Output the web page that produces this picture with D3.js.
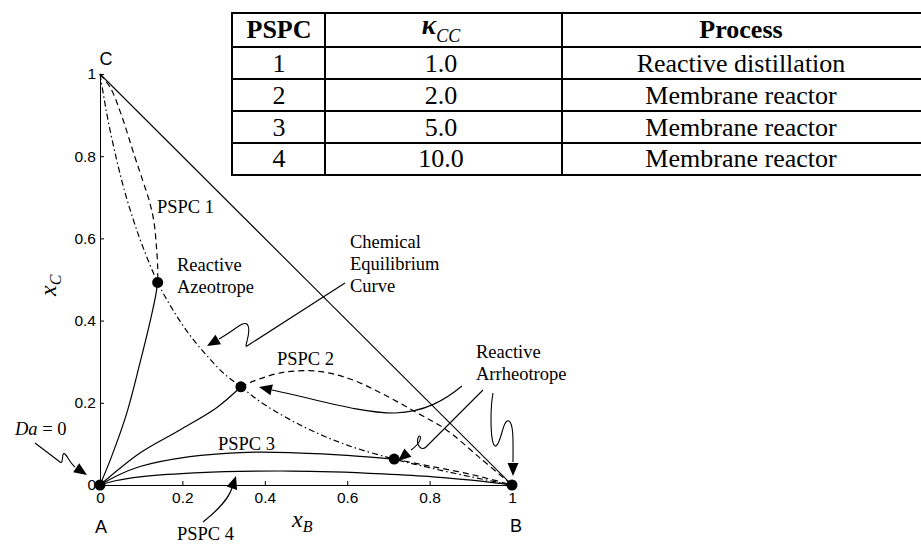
<!DOCTYPE html>
<html><head><meta charset="utf-8">
<script src="https://cdn.jsdelivr.net/npm/d3@7"></script>
<style>body{margin:0;background:#fff;}svg{display:block;}</style>
</head><body><svg id="c" width="921" height="545"></svg>
<script>
// ---------- data (x_B, x_C) ----------
const xTicks = [0, 0.2, 0.4, 0.6, 0.8, 1];
const yTicks = [0, 0.2, 0.4, 0.6, 0.8, 1];
const hypotenuse = [[0, 1], [1, 0]];
const equilibriumCurve = [[0,1],[0.01,0.94],[0.02,0.885],[0.04,0.793],[0.06,0.714],[0.08,0.648],[0.10,0.59],[0.14,0.493],[0.18,0.421],[0.22,0.362],[0.26,0.314],[0.30,0.272],[0.342,0.239],[0.40,0.195],[0.50,0.139],[0.60,0.097],[0.714,0.063],[0.80,0.042],[0.90,0.02],[1,0]];
const pspc1Stable = [[0,0],[0.028,0.069],[0.065,0.175],[0.097,0.297],[0.121,0.395],[0.135,0.46],[0.14,0.493]];
const pspc1Unstable = [[0,1],[0.026,0.965],[0.052,0.90],[0.084,0.80],[0.104,0.74],[0.12,0.69],[0.131,0.64],[0.137,0.58],[0.14,0.53],[0.14,0.493]];
const pspc2Stable = [[0,0],[0.097,0.078],[0.194,0.134],[0.283,0.188],[0.342,0.239]];
const pspc2Unstable = [[0.342,0.239],[0.376,0.254],[0.444,0.274],[0.526,0.277],[0.607,0.258],[0.687,0.221],[0.769,0.176],[0.841,0.134],[0.922,0.066],[1,0]];
const pspc3Stable = [[0,0],[0.04,0.022],[0.097,0.045],[0.218,0.069],[0.34,0.079],[0.46,0.079],[0.6,0.072],[0.714,0.063]];
const pspc3Unstable = [[0.714,0.063],[0.80,0.046],[0.90,0.026],[1,0]];
const pspc4Stable = [[0,0],[0.04,0.011],[0.097,0.020],[0.218,0.029],[0.34,0.033],[0.461,0.034],[0.566,0.032],[0.687,0.027],[0.808,0.020],[0.93,0.009],[1,0]];
const fixedPoints = [[0,0],[1,0],[0.14,0.493],[0.342,0.239],[0.714,0.063]];
const tablePSPC = ["1","2","3","4"];
const tableKappa = ["1.0","2.0","5.0","10.0"];
const tableProcess = ["Reactive distillation","Membrane reactor","Membrane reactor","Membrane reactor"];

// ---------- setup ----------
const serif = "'Liberation Serif','Times New Roman',serif";
const sans = "'Liberation Sans',Arial,sans-serif";
const svg = d3.select('#c');
const x = d3.scaleLinear().domain([0,1]).range([100,512]);
const y = d3.scaleLinear().domain([0,1]).range([485,74]);
const line = d3.line().x(d=>x(d[0])).y(d=>y(d[1])).curve(d3.curveCatmullRom.alpha(0.5));

// ---------- table ----------
const tbl = svg.append('g');
const colX = [232, 325, 562, 921];
const rowY = [13, 47, 79, 111, 143, 175];
rowY.forEach(v => tbl.append('line').attr('x1',colX[0]-1).attr('x2',colX[3]).attr('y1',v).attr('y2',v).attr('stroke','#000').attr('stroke-width',2));
colX.slice(0,3).forEach(v => tbl.append('line').attr('x1',v).attr('x2',v).attr('y1',rowY[0]).attr('y2',rowY[5]).attr('stroke','#000').attr('stroke-width',2));
const colC = [279, 441, 741];
tbl.append('text').attr('x',colC[0]).attr('y',38).attr('text-anchor','middle').attr('font-family',serif).attr('font-size',26).attr('font-weight','bold').text('PSPC');
const kt = tbl.append('text').attr('x',colC[1]).attr('y',34).attr('text-anchor','middle').attr('font-family',serif).attr('font-size',27);
kt.append('tspan').attr('font-weight','bold').attr('font-style','italic').text('κ');
kt.append('tspan').attr('font-style','italic').attr('font-size',18).attr('dy',8).text('CC');
tbl.append('text').attr('x',colC[2]).attr('y',38).attr('text-anchor','middle').attr('font-family',serif).attr('font-size',26).attr('font-weight','bold').text('Process');
const rowBase = [72, 104, 136, 167];
[tablePSPC, tableKappa, tableProcess].forEach((col, ci) => {
  col.forEach((t, ri) => tbl.append('text').attr('x',colC[ci]).attr('y',rowBase[ri]).attr('text-anchor','middle').attr('font-family',serif).attr('font-size',26).text(t));
});

// ---------- axes ----------
const gx = svg.append('g').attr('transform','translate(0,485)')
  .call(d3.axisBottom(x).tickValues(xTicks).tickFormat(d3.format('~g')).tickSizeInner(-4).tickSizeOuter(0).tickPadding(7));
const gy = svg.append('g').attr('transform','translate(100,0)')
  .call(d3.axisLeft(y).tickValues(yTicks).tickFormat(d3.format('~g')).tickSizeInner(-4).tickSizeOuter(0).tickPadding(4));
[gx, gy].forEach(g => {
  g.attr('font-family', sans).attr('font-size', 15.5);
  g.selectAll('path,line').attr('stroke','#000').attr('stroke-width',1);
  g.selectAll('text').attr('fill','#000');
});

// ---------- curves ----------
const curves = svg.append('g').attr('fill','none').attr('stroke','#000').attr('stroke-width',1.2);
curves.append('path').attr('d', line(hypotenuse)).attr('stroke-width',1.1);
curves.append('path').attr('d', line(equilibriumCurve)).attr('stroke-dasharray','6,3,1.5,3');
curves.append('path').attr('d', line(pspc1Unstable)).attr('stroke-dasharray','6,4');
curves.append('path').attr('d', line(pspc2Unstable)).attr('stroke-dasharray','6,4');
curves.append('path').attr('d', line(pspc3Unstable)).attr('stroke-dasharray','6,4');
curves.append('path').attr('d', line(pspc1Stable));
curves.append('path').attr('d', line(pspc2Stable));
curves.append('path').attr('d', line(pspc3Stable));
curves.append('path').attr('d', line(pspc4Stable));

svg.append('g').selectAll('circle').data(fixedPoints).join('circle')
  .attr('cx', d=>x(d[0])).attr('cy', d=>y(d[1])).attr('r',5.5).attr('fill','#000');

// ---------- labels ----------
function txt(t, px, py, opts={}) {
  return svg.append('text').attr('x',px).attr('y',py).attr('font-family',opts.family||serif)
    .attr('font-size',opts.size||18.5).attr('text-anchor',opts.anchor||'start').attr('fill','#000').text(t);
}
txt('C', 106, 65, {family:sans, size:18, anchor:'middle'});
txt('A', 101, 533, {family:sans, size:18, anchor:'middle'});
txt('B', 516, 532, {family:sans, size:18, anchor:'middle'});
txt('PSPC 1', 157, 212.5);
txt('Reactive', 177, 271); txt('Azeotrope', 177, 293);
txt('Chemical', 350, 248); txt('Equilibrium', 350, 270); txt('Curve', 350, 292);
txt('PSPC 2', 277, 365);
txt('Reactive', 476, 358); txt('Arrheotrope', 476, 380);
txt('PSPC 3', 218, 450);
txt('PSPC 4', 177, 540);
const da = svg.append('text').attr('x',15).attr('y',435).attr('font-family',serif).attr('font-size',18.5);
da.append('tspan').attr('font-style','italic').text('Da');
da.append('tspan').text(' = 0');

const xl = svg.append('text').attr('x',292).attr('y',527).attr('font-family',serif).attr('font-style','italic').attr('font-size',24);
xl.append('tspan').text('x');
xl.append('tspan').attr('font-size',16).attr('dy',5).text('B');
const yl = svg.append('text').attr('transform','translate(56,296) rotate(-90)').attr('font-family',serif).attr('font-style','italic').attr('font-size',24);
yl.append('tspan').text('x');
yl.append('tspan').attr('font-size',16).attr('dy',5).text('C');

// ---------- annotation arrows ----------
function arrowHead(tip, from, L=13, W=5.5) {
  const dx=tip[0]-from[0], dy=tip[1]-from[1], d=Math.hypot(dx,dy), ux=dx/d, uy=dy/d;
  const bx=tip[0]-ux*L, by=tip[1]-uy*L;
  return `M${tip[0]},${tip[1]}L${bx-uy*W},${by+ux*W}L${bx+uy*W},${by-ux*W}Z`;
}
const arrows = [
  {d:'M35,443 L60,462 C64,465 61,451 65,454 C68,457 70,463 75,467', tip:[87,475], from:[75,467]},
  {d:'M345,283 L247,346 C243,349 253,330 247,324 C243,321 235,330 219,339', tip:[207,346], from:[219,339]},
  {d:'M462,386 C445,400 425,412 395,413 C360,413 320,400 272,390', tip:[259,387], from:[272,390]},
  {d:'M483,390 L426,447 C421,452 416,444 418,438 C420,432 425,440 411,450', tip:[398,461], from:[411,450]},
  {d:'M493,393 C490,410 490,448 496,446 C501,444 503,418 509,421 C514,424 513,445 513,462', tip:[513,476], from:[513,462]},
  {d:'M203,522 C218,510 228,500 232,488', tip:[236,476], from:[232,488]}
];
const ag = svg.append('g');
arrows.forEach(a => {
  ag.append('path').attr('d',a.d).attr('fill','none').attr('stroke','#000').attr('stroke-width',1.1);
  ag.append('path').attr('d',arrowHead(a.tip,a.from)).attr('fill','#000');
});
</script></body></html>
